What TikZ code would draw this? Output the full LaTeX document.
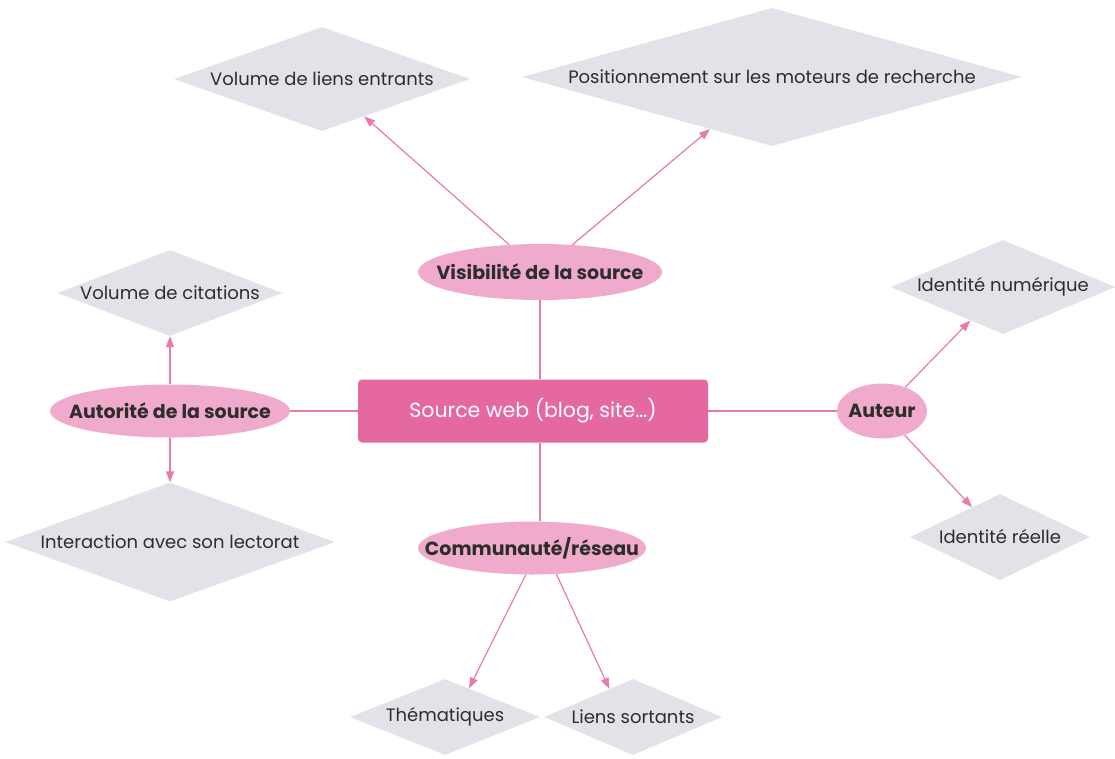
\documentclass[tikz,border=0pt]{standalone}
\usepackage{fontspec}
\setmainfont{Poppins}
\usetikzlibrary{shapes.geometric,arrows.meta}
\definecolor{rosefonce}{RGB}{229,104,160}
\definecolor{roseclair}{RGB}{240,170,203}
\definecolor{trait}{RGB}{232,122,172}
\definecolor{gris}{RGB}{226,227,232}
\definecolor{texte}{RGB}{45,45,45}

\begin{document}
\begin{tikzpicture}[x=1pt,y=-1pt,
    losange/.style={diamond,aspect=2.8,fill=gris,inner sep=0pt,text=texte,
      font=\fontsize{18}{21}\selectfont},
    bulle/.style={ellipse,fill=roseclair,inner xsep=-32pt,inner ysep=0pt,text=texte,
      font=\fontsize{19}{22}\selectfont\bfseries},
    lien/.style={draw=trait,line width=1.2pt},
    fleche/.style={lien,-{Triangle[length=11pt,width=8pt]}}]
  \useasboundingbox (0,0) rectangle (1115,758);

  \node[fill=rosefonce,rounded corners=4pt,minimum width=350pt,minimum height=63pt,
    text=white,font=\fontsize{20.5}{24}\selectfont] (source) at (533,411) {Source web (blog, site\dots)};

  \node[bulle,minimum width=244pt,minimum height=56pt] (visib) at (540,272) {Visibilité de la source};
  \node[bulle,minimum width=240pt,minimum height=53pt] (autor) at (170,411) {Autorité de la source};
  \node[bulle,minimum width=90pt,minimum height=55pt] (auteur) at (882,411) {Auteur};
  \node[bulle,minimum width=228pt,minimum height=53pt] (commu) at (532,548) {Communauté/réseau};

  \node[losange,minimum width=296pt,minimum height=104pt] (entrants) at (322,79) {Volume de liens entrants};
  \node[losange,aspect=3.6,minimum width=500pt,minimum height=138pt] (moteurs) at (772,77) {Positionnement sur les moteurs de recherche};
  \node[losange,minimum width=225pt,minimum height=86pt] (citations) at (170,293) {Volume de citations};
  \node[losange,minimum width=330pt,minimum height=119pt] (lectorat) at (170,542) {Interaction avec son lectorat};
  \node[losange,minimum width=225pt,minimum height=94pt] (numerique) at (1003,287) {Identité numérique};
  \node[losange,minimum width=180pt,minimum height=86pt] (reelle) at (1000,537) {Identité réelle};
  \node[losange,minimum width=190pt,minimum height=76pt] (themes) at (445,717) {Thématiques};
  \node[losange,minimum width=178pt,minimum height=76pt] (sortants) at (633,717) {Liens sortants};

  \draw[lien] (visib.south) -- (visib.south |- source.north);
  \draw[lien] (visib.south |- source.south) -- (visib.south |- commu.north);
  \draw[lien] (source) -- (autor);
  \draw[lien] (source) -- (auteur);

  \draw[fleche] (visib) -- (entrants);
  \draw[fleche] (visib) -- (moteurs);
  \draw[fleche] (autor) -- (citations);
  \draw[fleche] (autor) -- (lectorat);
  \draw[fleche] (auteur) -- (numerique);
  \draw[fleche] (auteur) -- (reelle);
  \draw[fleche] (commu.257) -- (themes.50);
  \draw[fleche] (commu.313) -- (sortants.130);
\end{tikzpicture}
\end{document}
